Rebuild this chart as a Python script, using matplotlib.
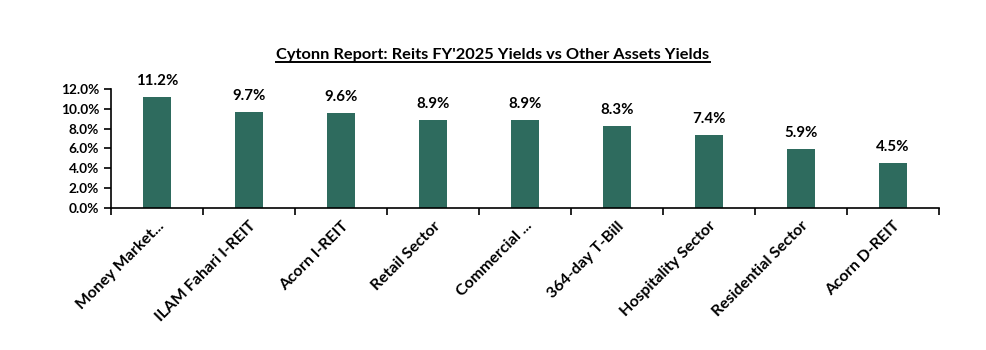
import matplotlib.pyplot as plt
from matplotlib.ticker import FuncFormatter, FixedLocator
from matplotlib.lines import Line2D

categories = ["Money Market...", "ILAM Fahari I-REIT", "Acorn I-REIT", "Retail Sector",
              "Commercial ...", "364-day T-Bill", "Hospitality Sector",
              "Residential Sector", "Acorn D-REIT"]
yields = [11.2, 9.7, 9.6, 8.9, 8.9, 8.3, 7.4, 5.9, 4.5]

plt.rcParams['font.family'] = ['Lato', 'DejaVu Sans']
plt.rcParams['font.weight'] = 'bold'

fig = plt.figure(figsize=(9.86, 3.5), dpi=100)
ax = fig.add_axes([0.1126, 0.406, 0.8397, 0.34])

x = list(range(len(categories)))
bars = ax.bar(x, yields, width=0.31, color='#2E6B5E')
for xi, v in zip(x, yields):
    ax.text(xi, v + 0.9, f"{v:.1f}%", ha='center', va='bottom', fontsize=10.8, fontweight='bold')

ax.set_xlim(-0.5, len(categories) - 0.5)
ax.set_ylim(0, 12)
ax.set_yticks([0, 2, 4, 6, 8, 10, 12])
ax.yaxis.set_major_formatter(FuncFormatter(lambda v, p: f"{v:.1f}%"))
ax.set_xticks(x)
ax.set_xticklabels(categories, rotation=45, ha='right', rotation_mode='anchor', fontsize=11.5, fontweight='bold')
ax.xaxis.set_minor_locator(FixedLocator([i - 0.5 for i in range(len(categories) + 1)]))
ax.tick_params(axis='x', which='major', length=0, pad=8)
ax.tick_params(axis='x', which='minor', length=5, direction='out', width=1.2)
ax.tick_params(axis='y', length=5, direction='out', width=1.2, labelsize=9.8)
for lbl in ax.get_yticklabels():
    lbl.set_fontweight('bold')
ax.spines['top'].set_visible(False)
ax.spines['right'].set_visible(False)
ax.spines['left'].set_linewidth(1.2)
ax.spines['bottom'].set_linewidth(1.2)

t = fig.text(0.5, 1 - 55 / 350, "Cytonn Report: Reits FY'2025 Yields vs Other Assets Yields",
             ha='center', va='center', fontsize=11.8, fontweight='bold')
fig.canvas.draw()
bb = t.get_window_extent().transformed(fig.transFigure.inverted())
fig.add_artist(Line2D([bb.x0, bb.x1], [bb.y0, bb.y0], color='black', lw=1.4,
                      transform=fig.transFigure))

fig.savefig("out.png", dpi=100)
